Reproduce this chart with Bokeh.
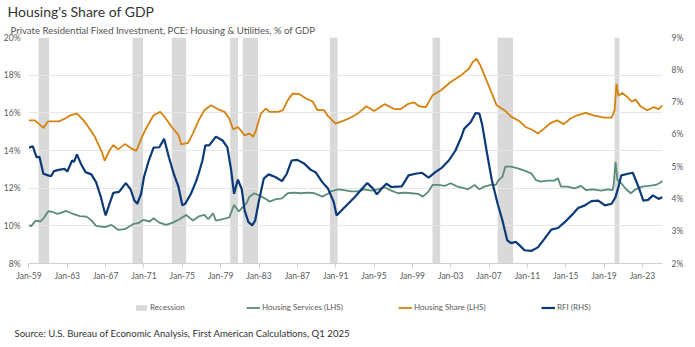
from bokeh.plotting import figure
from bokeh.layouts import column
from bokeh.models import (Range1d, LinearAxis, FixedTicker, Title, Legend, LegendItem, Label)
from bokeh.embed import file_html
from bokeh.resources import INLINE

# ---------------- data ----------------
rec_start = [1960.0, 1969.8, 1973.9, 1980.0, 1981.3, 1990.4, 2001.1, 2007.9, 2020.1]
rec_end = [1961.1, 1970.9, 1975.4, 1980.8, 1982.9, 1991.2, 2001.9, 2009.5, 2020.6]

hs_year = [1959.0, 1959.6, 1960.5, 1961.0, 1962.1, 1962.8, 1963.3, 1964.0, 1964.7, 1965.2,
           1965.9, 1966.6, 1966.9, 1967.4, 1967.8, 1968.3, 1969.0, 1969.7, 1970.2, 1970.8,
           1971.3, 1972.0, 1972.7, 1973.2, 1973.9, 1974.6, 1974.9, 1975.6, 1976.1, 1976.7,
           1977.3, 1978.0, 1978.7, 1979.4, 1979.9, 1980.3, 1980.8, 1981.2, 1981.5, 1982.0,
           1982.4, 1982.7, 1983.2, 1983.7, 1984.1, 1985.0, 1985.5, 1986.0, 1986.5, 1987.2,
           1987.9, 1988.6, 1989.1, 1989.8, 1990.2, 1991.0, 1991.9, 1992.6, 1993.3, 1994.2,
           1995.0, 1996.1, 1997.1, 1997.8, 1998.5, 1999.2, 1999.7, 2000.4, 2001.1, 2002.0,
           2003.0, 2004.1, 2004.9, 2005.3, 2005.7, 2006.1, 2006.8, 2007.3, 2007.8, 2008.6,
           2009.3, 2010.2, 2010.8, 2011.5, 2012.1, 2012.7, 2013.4, 2014.1, 2014.8, 2015.5,
           2016.2, 2017.1, 2017.9, 2019.0, 2019.8, 2020.1, 2020.3, 2020.5, 2020.9, 2021.4,
           2021.9, 2022.3, 2022.8, 2023.5, 2024.2, 2024.7, 2025.1]
hs_val = [15.6, 15.6, 15.2, 15.55, 15.55, 15.7, 15.87, 15.96, 15.6, 15.25,
          14.7, 13.93, 13.45, 14.0, 14.29, 14.06, 14.34, 14.1, 13.98, 14.73,
          15.25, 15.87, 16.05, 15.75, 15.25, 14.82, 14.32, 14.4, 14.9, 15.6,
          16.14, 16.4, 16.2, 16.05, 15.7, 15.13, 15.25, 15.0, 14.8, 14.9,
          14.73, 15.1, 15.96, 16.23, 16.05, 16.05, 16.14, 16.67, 17.02, 17.0,
          16.76, 16.6, 16.14, 16.14, 15.82, 15.43, 15.6, 15.75, 15.96, 16.35,
          16.1, 16.46, 16.2, 16.2, 16.46, 16.55, 16.35, 16.3, 16.93, 17.2,
          17.64, 18.0, 18.34, 18.7, 18.87, 18.52, 17.64, 17.02, 16.4, 16.14,
          15.8, 15.55, 15.25, 15.1, 14.9, 15.15, 15.45, 15.6, 15.4, 15.7,
          15.87, 16.0, 15.87, 15.75, 15.75, 16.14, 17.55, 16.9, 17.05, 16.85,
          16.6, 16.7, 16.35, 16.14, 16.3, 16.2, 16.4]

hsv_year = [1959.0, 1959.2, 1959.7, 1960.2, 1960.6, 1961.0, 1961.3, 1962.0, 1962.9, 1963.6,
            1964.3, 1965.0, 1965.5, 1966.0, 1966.9, 1967.6, 1968.3, 1969.0, 1969.9, 1970.4,
            1970.9, 1971.6, 1972.0, 1972.6, 1973.3, 1974.0, 1974.7, 1975.4, 1976.1, 1976.8,
            1977.3, 1977.7, 1978.2, 1978.5, 1979.2, 1979.9, 1980.4, 1980.9, 1981.2, 1981.7,
            1982.0, 1982.5, 1983.1, 1983.6, 1984.1, 1984.7, 1985.4, 1986.0, 1986.7, 1987.4,
            1988.1, 1988.8, 1989.6, 1990.2, 1990.5, 1991.2, 1991.9, 1992.6, 1993.3, 1994.0,
            1994.7, 1995.4, 1996.1, 1996.8, 1997.5, 1998.2, 1998.9, 1999.6, 2000.1, 2000.7,
            2001.1, 2001.7, 2002.4, 2003.0, 2003.7, 2004.4, 2004.8, 2005.5, 2006.0, 2006.5,
            2007.2, 2007.7, 2008.0, 2008.4, 2008.7, 2009.3, 2010.0, 2010.7, 2011.4, 2011.9,
            2012.4, 2013.1, 2013.8, 2014.2, 2014.5, 2015.2, 2015.9, 2016.6, 2017.1, 2017.8,
            2018.7, 2019.4, 2019.9, 2020.0, 2020.2, 2020.4, 2020.8, 2021.3, 2021.8, 2022.3,
            2023.0, 2023.7, 2024.4, 2024.9, 2025.1]
hsv_val = [10.05, 9.97, 10.28, 10.23, 10.45, 10.76, 10.76, 10.63, 10.79, 10.63,
           10.52, 10.49, 10.3, 10.0, 9.93, 10.05, 9.79, 9.82, 10.1, 10.14,
           10.31, 10.23, 10.4, 10.17, 10.05, 10.17, 10.35, 10.58, 10.28, 10.52,
           10.58, 10.35, 10.67, 10.28, 10.35, 10.45, 11.11, 10.76, 10.94, 11.2,
           11.55, 11.73, 11.6, 11.46, 11.29, 11.4, 11.46, 11.73, 11.76, 11.73,
           11.76, 11.73, 11.55, 11.7, 11.83, 11.94, 11.9, 11.83, 11.83, 11.94,
           11.87, 11.94, 12.05, 11.87, 11.73, 11.76, 11.73, 11.7, 11.55, 11.83,
           12.17, 12.17, 12.12, 12.26, 12.08, 12.0, 11.94, 12.17, 11.94, 12.08,
           12.17, 12.17, 12.43, 12.61, 13.14, 13.14, 13.05, 12.93, 12.79, 12.43,
           12.35, 12.4, 12.4, 12.52, 12.08, 12.08, 11.99, 12.12, 11.9, 11.94,
           11.87, 11.94, 11.9, 12.17, 13.4, 12.43, 12.26, 11.94, 11.73, 11.94,
           12.08, 12.12, 12.17, 12.3, 12.4]

rfi_year = [1959.0, 1959.4, 1959.8, 1960.1, 1960.5, 1961.0, 1961.3, 1961.6, 1962.1, 1962.7,
            1963.0, 1963.5, 1963.7, 1964.0, 1964.4, 1964.9, 1965.5, 1966.0, 1966.5, 1966.9,
            1967.0, 1967.4, 1967.8, 1968.4, 1969.1, 1969.6, 1970.0, 1970.3, 1970.7, 1971.0,
            1971.5, 1972.0, 1972.6, 1973.1, 1973.6, 1974.1, 1974.6, 1975.0, 1975.3, 1975.9,
            1976.4, 1976.7, 1977.1, 1977.4, 1977.8, 1978.5, 1979.2, 1979.7, 1980.1, 1980.4,
            1980.8, 1981.2, 1981.5, 1981.9, 1982.3, 1982.6, 1983.0, 1983.5, 1984.0, 1984.7,
            1985.4, 1985.9, 1986.4, 1987.0, 1987.7, 1988.4, 1988.9, 1989.6, 1990.2, 1990.8,
            1991.1, 1991.6, 1992.3, 1993.0, 1993.7, 1994.3, 1994.9, 1995.3, 1995.8, 1996.3,
            1996.8, 1997.9, 1998.6, 1999.3, 2000.0, 2000.7, 2001.4, 2002.1, 2002.8, 2003.5,
            2004.1, 2004.4, 2005.1, 2005.6, 2006.0, 2006.3, 2006.8, 2007.3, 2007.9, 2008.4,
            2008.9, 2009.3, 2009.8, 2010.3, 2010.7, 2011.4, 2012.1, 2012.8, 2013.5, 2014.2,
            2014.9, 2015.6, 2016.3, 2017.0, 2017.7, 2018.4, 2019.1, 2019.8, 2020.2, 2020.5,
            2020.8, 2021.5, 2022.0, 2022.6, 2023.1, 2023.6, 2024.1, 2024.7, 2025.1]
rfi_val = [5.59, 5.63, 5.29, 5.3, 4.78, 4.73, 4.7, 4.86, 4.9, 4.93,
           4.85, 5.19, 5.15, 5.38, 5.1, 4.83, 4.76, 4.52, 4.06, 3.59,
           3.49, 3.85, 4.19, 4.22, 4.49, 4.3, 3.95, 3.85, 4.16, 4.68,
           5.19, 5.59, 5.6, 5.86, 5.29, 4.78, 4.37, 3.8, 3.85, 4.16,
           4.52, 4.78, 5.19, 5.66, 5.66, 5.93, 5.81, 5.6, 4.88, 4.16,
           4.6, 4.3, 3.64, 3.28, 3.18, 3.33, 3.95, 4.63, 4.76, 4.68,
           4.55, 4.78, 5.19, 5.21, 5.1, 4.9, 4.83, 4.52, 4.32, 3.9,
           3.49, 3.64, 3.85, 4.06, 4.3, 4.49, 4.32, 4.14, 4.32, 4.47,
           4.37, 4.39, 4.73, 4.78, 4.81, 4.66, 4.83, 4.97, 5.19, 5.5,
           5.91, 6.17, 6.38, 6.66, 6.64, 6.28, 5.4, 4.57, 3.85, 3.33,
           2.72, 2.63, 2.67, 2.53, 2.41, 2.39, 2.5, 2.77, 3.05, 3.1,
           3.28, 3.49, 3.72, 3.8, 3.93, 3.95, 3.8, 3.85, 4.06, 4.37,
           4.73, 4.78, 4.81, 4.37, 3.95, 3.97, 4.11, 4.0, 4.06]

x_ticks = [1959, 1963, 1967, 1971, 1975, 1979, 1983, 1987, 1991, 1995, 1999, 2003,
           2007, 2011, 2015, 2019, 2023]
x_tick_labels = ["Jan-59", "Jan-63", "Jan-67", "Jan-71", "Jan-75", "Jan-79", "Jan-83",
                 "Jan-87", "Jan-91", "Jan-95", "Jan-99", "Jan-03", "Jan-07", "Jan-11",
                 "Jan-15", "Jan-19", "Jan-23"]
left_ticks = [8, 10, 12, 14, 16, 18, 20]
right_ticks = [2, 3, 4, 5, 6, 7, 8, 9]
legend_labels = ["Recession", "Housing Services (LHS)", "Housing Share (LHS)", "RFI (RHS)"]

title_text = "Housing's Share of GDP"
subtitle_text = "Private Residential Fixed Investment, PCE: Housing & Utilities, % of GDP"
source_text = "Source: U.S. Bureau of Economic Analysis, First American Calculations, Q1 2025"

# ---------------- styles ----------------
FONT = "Lato"
ORANGE = "#D6820E"
BLUE = "#0C3A78"
GREEN = "#5A8D76"
REC = "#D9D9D9"
TXT = "#595959"

L, R = 26, 33
W = 695
H1, H2 = 287, 60

p = figure(width=W, height=H1, output_backend="svg", toolbar_location=None, title=None,
           x_range=Range1d(1958.95, 2025.1), y_range=Range1d(8, 20),
           min_border_left=L, min_border_right=R, min_border_top=0, min_border_bottom=24)
p.frame_align = False
p.outline_line_color = None
p.background_fill_color = "white"
p.border_fill_color = "white"
p.extra_y_ranges = {"rfi": Range1d(2, 9)}

p.quad(left=rec_start, right=rec_end, bottom=8, top=20, fill_color=REC,
       line_color=None, level="underlay")
p.line(hsv_year, hsv_val, line_color=GREEN, line_width=1.8)
p.line(hs_year, hs_val, line_color=ORANGE, line_width=1.8)
p.line(rfi_year, rfi_val, line_color=BLUE, line_width=2.2, y_range_name="rfi")

# axes
xa = p.xaxis[0]
xa.ticker = FixedTicker(ticks=x_ticks)
xa.major_label_overrides = {t: s for t, s in zip(x_ticks, x_tick_labels)}
xa.axis_line_color = "#D0D0D0"
xa.major_tick_line_color = "#D0D0D0"
xa.major_tick_out = 4
xa.major_tick_in = 0
xa.minor_tick_line_color = None
xa.minor_tick_out = 0
xa.major_label_text_font = FONT
xa.major_label_text_font_size = "8.5px"
xa.major_label_text_color = TXT
xa.major_label_standoff = 3

ya = p.yaxis[0]
ya.ticker = FixedTicker(ticks=left_ticks)
ya.major_label_overrides = {t: f"{t}%" for t in left_ticks}
ya.axis_line_color = None
ya.major_tick_line_color = None
ya.minor_tick_line_color = None
ya.major_tick_out = 0
ya.major_tick_in = 0
ya.minor_tick_out = 0
ya.major_label_text_font = FONT
ya.major_label_text_font_size = "8.5px"
ya.major_label_text_color = TXT
ya.major_label_standoff = 8

ra = LinearAxis(y_range_name="rfi", ticker=FixedTicker(ticks=right_ticks))
ra.major_label_overrides = {t: f"{t}%" for t in right_ticks}
ra.axis_line_color = None
ra.major_tick_line_color = None
ra.minor_tick_line_color = None
ra.major_tick_out = 0
ra.major_tick_in = 0
ra.minor_tick_out = 0
ra.major_label_text_font = FONT
ra.major_label_text_font_size = "8.5px"
ra.major_label_text_color = TXT
ra.major_label_standoff = 9
p.add_layout(ra, "right")

p.xgrid.grid_line_color = None
p.ygrid.grid_line_color = "#E6E6E6"
p.ygrid.grid_line_width = 1
p.ygrid.ticker = FixedTicker(ticks=left_ticks)

# titles (nearest the frame first)
p.add_layout(Title(text=subtitle_text, align="left", offset=8 - L, standoff=4,
                   text_font=FONT, text_font_size="9.6px", text_color="#555555",
                   text_font_style="normal"), "above")
p.add_layout(Title(text=title_text, align="left", offset=5 - L, standoff=1,
                   text_font=FONT, text_font_size="14px", text_color="#333333",
                   text_font_style="normal"), "above")

# ---------------- legend + source strip ----------------
q = figure(width=W, height=H2, output_backend="svg", toolbar_location=None,
           x_range=Range1d(0, W), y_range=Range1d(0, H2), x_axis_type=None, y_axis_type=None,
           min_border=0)
q.frame_align = False
q.outline_line_color = None
q.grid.visible = False
q.background_fill_color = "white"
q.border_fill_color = "white"
# legend keys reuse the series (hidden in this strip; only their legend swatches show)
r_rec = q.quad(left=rec_start, right=rec_end, bottom=8, top=20, fill_color=REC,
               line_color=None, visible=False)
r_hsv = q.line(hsv_year, hsv_val, line_color=GREEN, line_width=1.8, visible=False)
r_hs = q.line(hs_year, hs_val, line_color=ORANGE, line_width=1.8, visible=False)
r_rfi = q.line(rfi_year, rfi_val, line_color=BLUE, line_width=2.2, visible=False)

key_x = [134, 246, 398, 541]
for lab, r, kx in zip(legend_labels, [r_rec, r_hsv, r_hs, r_rfi], key_x):
    lg = Legend(items=[LegendItem(label=lab, renderers=[r])],
                location=(kx, 35), padding=0, margin=0,
                glyph_width=14, glyph_height=7, label_standoff=2,
                label_text_font=FONT, label_text_font_size="8px", label_text_color=TXT,
                border_line_color=None, background_fill_alpha=0, label_height=8)
    q.add_layout(lg, "center")

q.add_layout(Label(x=14, y=H2 - 40, text=source_text, text_font=FONT,
                   text_font_size="9.6px", text_color="#333333", text_baseline="top"))

layout = column(p, q, spacing=0)
open("out.html", "w").write(file_html(layout, INLINE))
